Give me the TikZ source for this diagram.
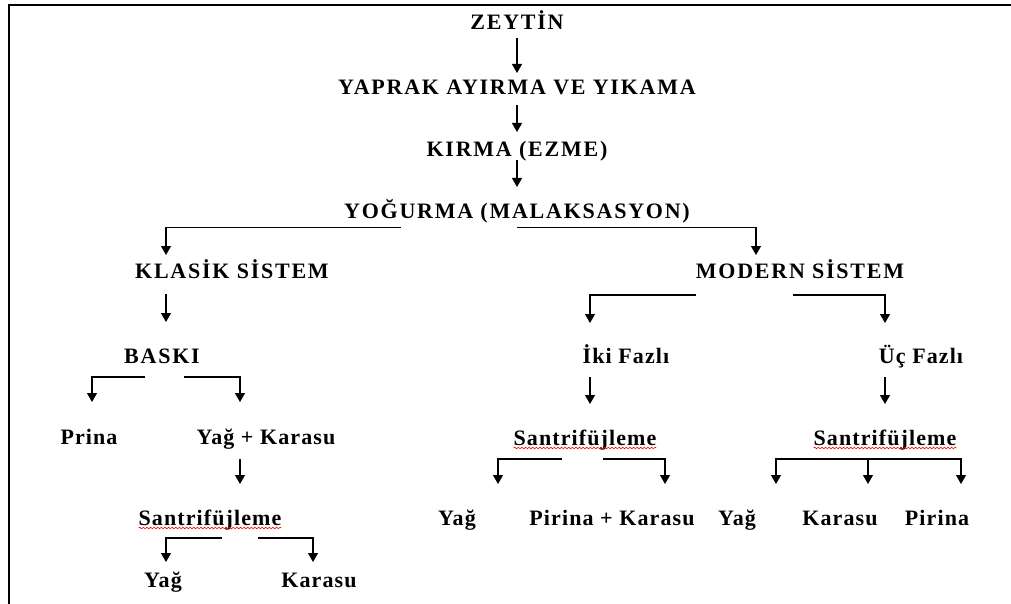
\documentclass[tikz,border=0pt]{standalone}
\usepackage{fontspec}
\setmainfont{Liberation Serif}
\usetikzlibrary{arrows.meta,decorations.pathmorphing}
\begin{document}
\begin{tikzpicture}[x=1pt,y=-1pt,
  lbl/.style={anchor=base,inner sep=0pt,outer sep=0pt,text height=13pt,text depth=0pt,
    font=\fontsize{22}{24}\selectfont\bfseries\addfontfeature{LetterSpace=5}},
  caps/.style={lbl,font=\fontsize{22}{24}\selectfont\bfseries\addfontfeature{LetterSpace=8}},
  arr/.style={line width=1.2pt,-{Triangle[width=10pt,length=9pt]}},
  squig/.style={red,line width=0.6pt,decorate,decoration={snake,amplitude=0.8pt,segment length=3.6pt}}]
\useasboundingbox[fill=white] (0,0) rectangle (1011,604);
\draw[line width=2pt] (9,604) -- (9,5) -- (1011,5);

\node[caps] (zeytin) at (517,30) {ZEYTİN};
\node[caps] (yaprak) at (517,95) {YAPRAK AYIRMA VE YIKAMA};
\node[caps] (kirma) at (517,157) {KIRMA (EZME)};
\node[caps] (yogurma) at (517,218) {YOĞURMA (MALAKSASYON)};
\node[caps] (klasik) at (232,278) {KLASİK SİSTEM};
\node[caps] (modern) at (800,278) {MODERN SİSTEM};
\node[caps] (baski) at (162,363) {BASKI};
\node[lbl] (iki) at (626,363) {İki Fazlı};
\node[lbl] (uc) at (921,363) {Üç Fazlı};
\node[lbl] (prina) at (89,444) {Prina};
\node[lbl] (yagkarasu) at (266,444) {Yağ + Karasu};
\node[lbl] (santri2) at (585,445) {Santrifüjleme};
\node[lbl] (santri3) at (885,445) {Santrifüjleme};
\node[lbl] (santri1) at (210,525) {Santrifüjleme};
\node[lbl] (yag2) at (457,525) {Yağ};
\node[lbl] (pirinakarasu) at (612,525) {Pirina + Karasu};
\node[lbl] (yag3) at (737,525) {Yağ};
\node[lbl] (karasu3) at (840,525) {Karasu};
\node[lbl] (pirina3) at (937,525) {Pirina};
\node[lbl] (yag1) at (163,587) {Yağ};
\node[lbl] (karasu1) at (319,587) {Karasu};

% main line
\draw[arr] ([yshift=-8pt]zeytin.south) -- ([yshift=9pt]yaprak.north);
\draw[arr] ([yshift=-10pt]yaprak.south) -- ([yshift=12pt]kirma.north);
\draw[arr] ([yshift=-3pt]kirma.south) -- ([yshift=18pt]yogurma.north);
\draw[arr] ([xshift=-116pt,yshift=-9.5pt]yogurma.south) -| ([xshift=-66pt,yshift=10pt]klasik.north);
\draw[arr] ([yshift=-9.5pt]yogurma.south) -| ([xshift=-44pt,yshift=10pt]modern.north);

% klasik
\draw[arr] ([xshift=-66pt,yshift=-16pt]klasik.south) -- ([xshift=4pt,yshift=28pt]baski.north);
\draw[arr] ([xshift=-17pt,yshift=-14pt]baski.south) -| ([xshift=3pt,yshift=29pt]prina.north);
\draw[arr] ([xshift=22pt,yshift=-14pt]baski.south) -| ([xshift=-26pt,yshift=29pt]yagkarasu.north);
\draw[arr] ([xshift=-26pt,yshift=-15pt]yagkarasu.south) -- ([xshift=30pt,yshift=28pt]santri1.north);
\draw[arr] ([xshift=12pt,yshift=-13pt]santri1.south) -| ([xshift=3pt,yshift=12pt]yag1.north);
\draw[arr] ([xshift=48pt,yshift=-13pt]santri1.south) -| ([xshift=-6pt,yshift=12pt]karasu1.north);

% modern
\draw[arr] ([xshift=-104pt,yshift=-17pt]modern.south) -| ([xshift=-36pt,yshift=27pt]iki.north);
\draw[arr] ([xshift=-7pt,yshift=-17pt]modern.south) -| ([xshift=-36pt,yshift=27pt]uc.north);
\draw[arr] ([xshift=-36pt,yshift=-14pt]iki.south) -- ([xshift=5pt,yshift=28pt]santri2.north);
\draw[arr] ([xshift=-36pt,yshift=-14pt]uc.south) -- ([yshift=28pt]santri3.north);
\draw[arr] ([xshift=-23.5pt,yshift=-14pt]santri2.south) -| ([xshift=41pt,yshift=28pt]yag2.north);
\draw[arr] ([xshift=18pt,yshift=-14pt]santri2.south) -| ([xshift=53pt,yshift=28pt]pirinakarasu.north);
\draw[arr] ([xshift=-17pt,yshift=-14pt]santri3.south) -| ([xshift=39pt,yshift=28pt]yag3.north);
\draw[arr] ([xshift=-17pt,yshift=-14pt]santri3.south) -- ([xshift=28pt,yshift=28pt]karasu3.north);
\draw[arr] ([xshift=-17pt,yshift=-14pt]santri3.south) -| ([xshift=24pt,yshift=28pt]pirina3.north);

% spelling marks
\draw[squig] ([yshift=-3pt]santri1.south west) -- ([yshift=-3pt]santri1.south east);
\draw[squig] ([yshift=-3pt]santri2.south west) -- ([yshift=-3pt]santri2.south east);
\draw[squig] ([yshift=-3pt]santri3.south west) -- ([yshift=-3pt]santri3.south east);
\end{tikzpicture}
\end{document}
